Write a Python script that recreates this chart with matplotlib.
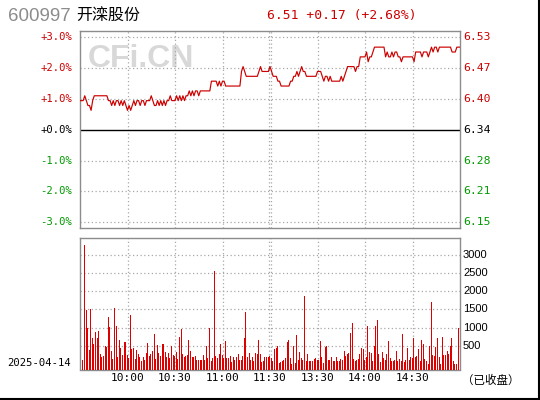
import matplotlib
matplotlib.use("Agg")
import matplotlib.pyplot as plt
import numpy as np

# intraday data, prices in cents above 6.00, one value per minute (9:30 .. 15:00)
prev_close = 6.34
price_cents = [
    40, 40, 40, 41, 40, 39, 39, 38, 40, 41,
    41, 41, 41, 41, 41, 41, 41, 41, 40, 40,
    39, 40, 39, 40, 40, 39, 40, 39, 40, 39,
    38, 39, 38, 39, 40, 39, 40, 40, 39, 40,
    40, 39, 40, 40, 40, 41, 40, 39, 39, 40,
    39, 40, 39, 40, 39, 40, 40, 41, 40, 40,
    40, 41, 40, 41, 40, 41, 40, 41, 41, 42,
    41, 42, 41, 42, 42, 41, 42, 42, 42, 42,
    42, 42, 42, 44, 44, 44, 44, 43, 44, 43,
    44, 44, 43, 43, 43, 43, 43, 43, 43, 43,
    43, 43, 46, 47, 46, 45, 45, 45, 45, 45,
    45, 45, 45, 46, 47, 46, 46, 46, 46, 46,
    47,
    46, 45, 45, 45, 44, 44, 43, 43, 43, 43,
    43, 43, 44, 44, 45, 45, 46, 45, 46, 47,
    46, 46, 45, 45, 45, 45, 45, 45, 45, 46,
    46, 46, 45, 44, 45, 45, 44, 45, 44, 44,
    44, 44, 44, 44, 45, 44, 45, 46, 47, 47,
    47, 47, 47, 46, 47, 47, 49, 49, 49, 49,
    50, 48, 49, 49, 50, 51, 51, 51, 51, 51,
    51, 51, 49, 50, 49, 49, 50, 49, 50, 50,
    49, 49, 48, 49, 49, 49, 49, 49, 49, 49,
    48, 50, 50, 50, 50, 49, 50, 50, 50, 49,
    50, 51, 50, 51, 51, 50, 51, 51, 51, 51,
    51, 51, 51, 51, 50, 50, 50, 51, 51, 51,
]

volume = [
    110, 3270, 1470, 1000, 380, 1520, 700, 550, 880, 700,
    900, 280, 200, 230, 500, 460, 1280, 1020, 360, 130,
    1550, 1030, 180, 650, 430, 250, 610, 610, 250, 150,
    1340, 400, 430, 130, 380, 270, 180, 70, 180, 100,
    300, 580, 230, 280, 360, 810, 130, 520, 300, 230,
    550, 560, 330, 180, 300, 170, 500, 250, 230, 340,
    130, 750, 950, 270, 190, 230, 250, 670, 350, 180,
    190, 210, 100, 110, 120, 110, 250, 110, 480, 160,
    990, 90, 160, 2550, 230, 150, 270, 560, 250, 160,
    640, 170, 160, 230, 40, 190, 100, 200, 280, 110,
    100, 210, 700, 1440, 200, 300, 120, 200, 90, 300,
    280, 670, 280, 60, 80, 190, 200, 180, 220, 170,
    80, 400, 430, 480, 20, 60, 90, 110, 170, 590, 670,
    160, 0, 480, 20, 800, 120, 330, 150, 120, 1870,
    80, 280, 90, 90, 80, 130, 160, 120, 110, 620,
    190, 30, 460, 490, 120, 120, 200, 70, 80, 190,
    70, 80, 140, 110, 360, 210, 280, 300, 860, 1130,
    130, 80, 120, 140, 280, 430, 400, 120, 180, 1040,
    320, 300, 90, 480, 1040, 1220, 280, 60, 330, 160,
    110, 270, 640, 150, 80, 80, 110, 350, 70, 130,
    90, 810, 60, 100, 430, 110, 180, 170, 700, 190,
    210, 400, 80, 670, 540, 140, 80, 0, 500, 1700, 250,
    230, 460, 700, 180, 0, 750, 250, 250, 360, 280, 490,
    700, 80, 0, 0, 1000,
]

pct_levels = [3, 2, 1, 0, -1, -2, -3]
pct_labels = ["+3.0%", "+2.0%", "+1.0%", "+0.0%", "-1.0%", "-2.0%", "-3.0%"]
price_labels = ["6.53", "6.47", "6.40", "6.34", "6.28", "6.21", "6.15"]
vol_levels = [500, 1000, 1500, 2000, 2500, 3000]
time_pos = [30, 60, 90, 120, 150, 180, 210]
time_labels = ["10:00", "10:30", "11:00", "11:30", "13:30", "14:00", "14:30"]

RED = "#cc0000"
GREEN = "#009900"
GRID = "#a8a8a8"
FRAME = "#8c8c8c"
MONO = "DejaVu Sans Mono"
CJK = ["Noto Sans CJK SC", "DejaVu Sans"]

W, H = 540, 400


def fx(x):
    return x / W


def fy(y):
    return 1 - y / H


fig = plt.figure(figsize=(5.4, 4.0), dpi=100)
fig.patch.set_facecolor("white")

# price panel
ax = fig.add_axes([fx(80), fy(228.3), fx(380), (228.3 - 31) / H])
price = 6.0 + np.array(price_cents) / 100.0
pct = (price / prev_close - 1) * 100
minutes = np.arange(len(pct))

ax.text(0.16, 0.86, "CFi.CN", transform=ax.transAxes, fontsize=23,
        fontweight="bold", family="Liberation Sans", color="#d8d8d8",
        ha="center", va="center", zorder=0)
ax.plot(minutes, pct, color=RED, lw=0.85, zorder=3)
ax.axhline(0, color="black", lw=1.0, zorder=2)
for lv in pct_levels:
    if lv != 0:
        ax.axhline(lv, color=GRID, lw=0.9, ls=(0, (1, 2)), zorder=1)
for tp in [30, 60, 90, 119.4, 120.8, 150, 180, 210]:
    ax.axvline(tp, color=GRID, lw=0.9, ls=(0, (1, 2)), zorder=1)
ax.set_xlim(0, 240)
ax.set_ylim(-3.195, 3.205)
ax.set_xticks([])
ax.set_yticks([])
for s in ax.spines.values():
    s.set_color(FRAME)
    s.set_linewidth(1.0)

for lv, lab, plab in zip(pct_levels, pct_labels, price_labels):
    c = RED if lv > 0 else ("black" if lv == 0 else GREEN)
    ax.text(-0.021, lv, lab, transform=ax.get_yaxis_transform(), ha="right",
            va="center", fontsize=7.6, family=MONO, color=c)
    ax.text(1.008, lv, plab, transform=ax.get_yaxis_transform(), ha="left",
            va="center", fontsize=8.2, family=MONO, color=c)

# volume panel
vax = fig.add_axes([fx(80), fy(369.5), fx(380), (369.5 - 238) / H])
vbot = -154
vol = np.array(volume, dtype=float)
xv = np.arange(len(vol)) + 1.5
vax.vlines(xv, vbot, vol, colors="#dd0000", lw=0.5, antialiased=False,
           zorder=3)
for lv in vol_levels:
    vax.axhline(lv, color=GRID, lw=0.9, ls=(0, (1, 2)), zorder=1)
    vax.text(1.008, lv, str(lv), transform=vax.get_yaxis_transform(),
             ha="left", va="center", fontsize=8, family="Liberation Sans")
for tp in [30, 60, 90, 119.4, 120.8, 150, 180, 210]:
    vax.axvline(tp, color=GRID, lw=0.9, ls=(0, (1, 2)), zorder=1)
vax.set_xlim(0, 240)
vax.set_ylim(vbot, 3463)
vax.set_xticks([])
vax.set_yticks([])
for s in vax.spines.values():
    s.set_color(FRAME)
    s.set_linewidth(1.0)
for tp, lab in zip(time_pos, time_labels):
    vax.text(tp, -0.065, lab, transform=vax.get_xaxis_transform(),
             ha="center", va="center", fontsize=8, family=MONO)

# header and side texts
fig.text(fx(8), fy(16.5), "600997", fontsize=13.5, family="Liberation Sans",
         color="#8c8c8c", va="center", ha="left")
fig.text(fx(76), fy(16.5), "开滦股份", fontsize=11.5, family=CJK,
         color="black", va="center", ha="left")
fig.text(fx(267), fy(16), "6.51 +0.17 (+2.68%)", fontsize=9.4, family=MONO,
         color=RED, va="center", ha="left")
fig.text(fx(7), fy(363), "2025-04-14", fontsize=7.6, family=MONO,
         va="center", ha="left")
fig.text(fx(462), fy(380), "（已收盘）", fontsize=8.3, family=CJK,
         va="center", ha="left")

# black frame on the right and bottom edges
fig.add_artist(plt.Line2D([fx(538.5), fx(538.5)], [0, 1], color="black",
                          lw=1.5, transform=fig.transFigure))
fig.add_artist(plt.Line2D([0, 1], [fy(398.5), fy(398.5)], color="black",
                          lw=1.5, transform=fig.transFigure))

fig.savefig("out.png", dpi=100)
